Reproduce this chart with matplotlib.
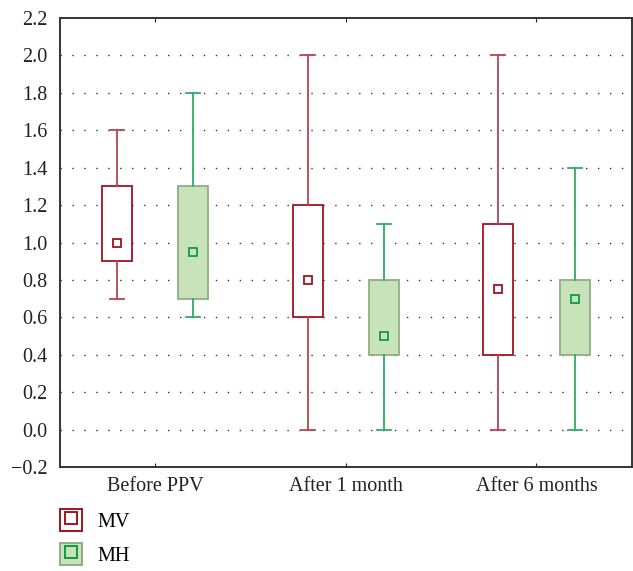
import matplotlib
matplotlib.use("Agg")
import matplotlib.pyplot as plt
from matplotlib.patches import Patch
from matplotlib.lines import Line2D
from matplotlib.legend_handler import HandlerTuple

plt.rcParams['font.family'] = ['Liberation Serif', 'DejaVu Serif']

categories = ["Before PPV", "After 1 month", "After 6 months"]
series = ["MV", "MH"]
# min, q1, q3, max, mean
mv_min = [0.7, 0.0, 0.0]
mv_q1 = [0.9, 0.6, 0.4]
mv_q3 = [1.3, 1.2, 1.1]
mv_max = [1.6, 2.0, 2.0]
mv_mean = [1.0, 0.8, 0.75]
mh_min = [0.6, 0.0, 0.0]
mh_q1 = [0.7, 0.4, 0.4]
mh_q3 = [1.3, 0.8, 0.8]
mh_max = [1.8, 1.1, 1.4]
mh_mean = [0.95, 0.5, 0.7]
yticks = [-0.2, 0.0, 0.2, 0.4, 0.6, 0.8, 1.0, 1.2, 1.4, 1.6, 1.8, 2.0, 2.2]

fig = plt.figure(figsize=(6.33, 5.71), dpi=100)
ax = fig.add_axes([0.0948, 0.182, 0.9032, 0.7865])

styles = {
    "MV": dict(edge="#a0141e", whisk="#b84452", fill="white", mean="#a0141e"),
    "MH": dict(edge="#8fae86", whisk="#2eae68", fill="#c8e3ba", mean="#109a48"),
}
data = {
    "MV": (mv_min, mv_q1, mv_q3, mv_max, mv_mean),
    "MH": (mh_min, mh_q1, mh_q3, mh_max, mh_mean),
}
offsets = {"MV": -0.2, "MH": 0.2}
width = 0.158

for s in series:
    mn, q1, q3, mx, me = data[s]
    st = styles[s]
    stats = []
    for i in range(len(categories)):
        stats.append(dict(whislo=mn[i], q1=q1[i], med=q1[i], q3=q3[i],
                          whishi=mx[i], mean=me[i], fliers=[]))
    pos = [i + offsets[s] for i in range(len(categories))]
    ax.bxp(stats, positions=pos, widths=width, capwidths=0.074,
           showmeans=False, showfliers=False, patch_artist=True,
           boxprops=dict(facecolor=st["fill"], edgecolor=st["edge"], linewidth=1.3),
           whiskerprops=dict(color=st["whisk"], linewidth=1.3),
           capprops=dict(color=st["whisk"], linewidth=1.3),
           medianprops=dict(linewidth=0), manage_ticks=False, zorder=3)
    ax.plot(pos, me, linestyle='none', marker='s', markersize=5.5,
            markerfacecolor='none', markeredgecolor=st["mean"],
            markeredgewidth=1.3, zorder=4)

ax.set_xlim(-0.5, 2.5)
ax.set_ylim(-0.2, 2.2)
ax.set_yticks(yticks)
ax.set_yticklabels([f"{v:.1f}".replace("-", "\u2212") for v in yticks])
ax.set_xticks(range(len(categories)))
ax.set_xticklabels(categories)
ax.tick_params(axis='y', length=0, pad=9, labelsize=14.5, colors='#222222')
ax.tick_params(axis='x', direction='in', top=True, length=3, pad=7,
               labelsize=14.5, colors='#222222')
for v in yticks[1:-1]:
    ax.axhline(v, color='#333333', linewidth=1.0, linestyle=(0, (1, 7.6)), zorder=1)
for sp in ax.spines.values():
    sp.set_color('#333333')
    sp.set_linewidth(1.4)

h_mv = (Patch(facecolor='white', edgecolor=styles["MV"]["edge"], linewidth=1.4),
        Line2D([], [], linestyle='none', marker='s', markersize=9,
               markerfacecolor='none', markeredgecolor=styles["MV"]["mean"], markeredgewidth=1.4))
h_mh = (Patch(facecolor=styles["MH"]["fill"], edgecolor=styles["MH"]["edge"], linewidth=1.4),
        Line2D([], [], linestyle='none', marker='s', markersize=9,
               markerfacecolor='none', markeredgecolor=styles["MH"]["mean"], markeredgewidth=1.4))
fig.legend([h_mv, h_mh], series, handler_map={tuple: HandlerTuple(ndivide=1)},
           loc='upper left', bbox_to_anchor=(0.0948, 0.108), frameon=False,
           borderpad=0, borderaxespad=0, handlelength=1.1, handleheight=1.3,
           handletextpad=0.75, labelspacing=0.55, fontsize=14.5)

fig.savefig("out.png", dpi=100)
